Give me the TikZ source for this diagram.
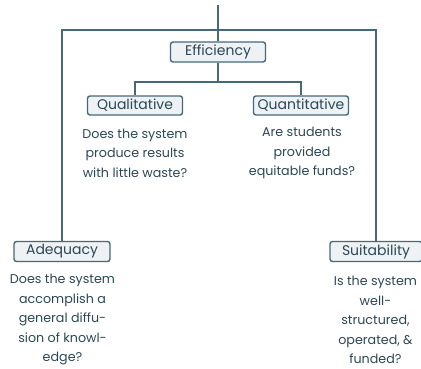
\documentclass[tikz,border=0pt]{standalone}
\usepackage{fontspec}
\setmainfont{Poppins}
\definecolor{slate}{HTML}{46697A}
\definecolor{ink}{HTML}{2A4755}
\definecolor{boxfill}{HTML}{EEF2F4}
\begin{document}
\begin{tikzpicture}[x=1pt,y=-1pt,
  conn/.style={draw=slate,line width=1.4pt},
  label/.style={draw=slate,line width=1.4pt,fill=boxfill,rounded corners=2.5pt,
    minimum height=20pt,inner sep=0pt,text=ink,font=\fontsize{14}{15}\selectfont},
  desc/.style={align=center,text=ink,inner sep=0pt,font=\fontsize{12.7}{19.5}\selectfont}]
  \useasboundingbox (0,0) rectangle (421,369);
  % boxes
  \node[label,minimum width=95pt] (eff) at (218,52) {Efficiency};
  \node[label,minimum width=95pt,minimum height=19pt] (qual) at (135,105.5) {Qualitative};
  \node[label,minimum width=95pt,minimum height=19pt] (quant) at (301,105.5) {Quantitative};
  \node[label,minimum width=96pt] (adeq) at (62,251.5) {Adequacy};
  \node[label,minimum width=92pt] (suit) at (376,251.5) {Suitability};
  % connectors
  \coordinate (top) at (218,5);
  \coordinate (hub) at (218,30);
  \coordinate (split) at (218,82);
  \draw[conn] (top) -- (eff.north);
  \draw[conn] (adeq.north) |- (hub) -| (suit.north);
  \draw[conn] (eff.south) -- (split);
  \draw[conn] (qual.north) |- (split) -| (quant.north);
  % descriptions
  \node[desc] (qualtext) at (135,153) {Does the system\\produce results\\with little waste?};
  \node[desc] (quanttext) at (302,153) {Are students\\provided\\equitable funds?};
  \node[desc] (adeqtext) at (62.5,320) {Does the system\\accomplish a\\general diffu-\\sion of knowl-\\edge?};
  \node[desc] (suittext) at (375.5,320) {Is the system\\well-\\structured,\\operated, \&\\funded?};
\end{tikzpicture}
\end{document}
